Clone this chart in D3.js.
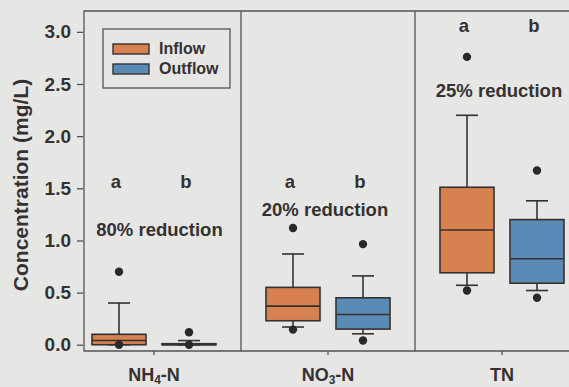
<!DOCTYPE html>
<html>
<head>
<meta charset="utf-8">
<script src="https://cdn.jsdelivr.net/npm/d3@7"></script>
<style>
  body { margin: 0; background: #e6e6e4; }
  svg { display: block; font-family: "Liberation Sans", Arial, sans-serif; font-weight: bold; }
</style>
</head>
<body>
<div id="chart"></div>
<script>
// categories and groups
const categories = ["NH4-N", "NO3-N", "TN"];
const groups = ["Inflow", "Outflow"];

// box stats per category, inflow
const inflowLow = [0.0, 0.17, 0.57];
const inflowQ1 = [0.0, 0.23, 0.69];
const inflowMedian = [0.04, 0.37, 1.10];
const inflowQ3 = [0.10, 0.55, 1.51];
const inflowHigh = [0.40, 0.87, 2.20];
const inflowOutliers = [[0.70, 0.0], [1.12, 0.145], [2.76, 0.52]];

// box stats per category, outflow
const outflowLow = [0.0, 0.105, 0.52];
const outflowQ1 = [0.0, 0.15, 0.59];
const outflowMedian = [0.0, 0.29, 0.825];
const outflowQ3 = [0.01, 0.45, 1.20];
const outflowHigh = [0.04, 0.66, 1.38];
const outflowOutliers = [[0.12, 0.0], [0.965, 0.04], [1.67, 0.45]];

// annotations
const letters = ["a", "b"];
const letterY = [1.5, 1.5, 3.0];
const reductions = ["80% reduction", "20% reduction", "25% reduction"];
const reductionY = [1.04, 1.23, 2.38];
const yTicks = [0, 0.5, 1.0, 1.5, 2.0, 2.5, 3.0];

const colors = { Inflow: "#d6814f", Outflow: "#5a8bb6" };
const ink = "#353131";
const frameColor = "#555252";

const width = 569;
const height = 387;
const plotLeft = 84, plotTop = 11, plotBottom = 351;

const svg = d3.select("#chart")
  .append("svg")
  .attr("width", width)
  .attr("height", height);

const y = d3.scaleLinear()
  .domain([-0.06, 3.2])
  .range([plotBottom, plotTop]);

const x = d3.scaleBand()
  .domain(categories)
  .range([67, 589]);

const xg = d3.scaleBand()
  .domain(groups)
  .range([17, x.bandwidth() - 17]);

const boxW = 54;
const capW = 22;

const rows = [];
categories.forEach((c, i) => {
  rows.push({ cat: c, grp: "Inflow", low: inflowLow[i], q1: inflowQ1[i], med: inflowMedian[i], q3: inflowQ3[i], high: inflowHigh[i], out: inflowOutliers[i] });
  rows.push({ cat: c, grp: "Outflow", low: outflowLow[i], q1: outflowQ1[i], med: outflowMedian[i], q3: outflowQ3[i], high: outflowHigh[i], out: outflowOutliers[i] });
});
const cx = (d) => x(d.cat) + xg(d.grp) + xg.bandwidth() / 2;
// centre of the visible part of a panel
const panelMid = (c) => (Math.max(x(c), plotLeft) + x(c) + x.bandwidth()) / 2;

// frame and dividers
svg.append("path")
  .attr("d", `M${width + 30},${plotTop}H${plotLeft}V${plotBottom}H${width + 30}`)
  .attr("fill", "none")
  .attr("stroke", frameColor)
  .attr("stroke-width", 1.3);

svg.selectAll(".divider")
  .data(categories.slice(1))
  .enter()
  .append("line")
  .attr("class", "divider")
  .attr("x1", (d) => x(d))
  .attr("x2", (d) => x(d))
  .attr("y1", plotTop)
  .attr("y2", plotBottom)
  .attr("stroke", frameColor)
  .attr("stroke-width", 1.3);

// y axis
const yAxis = svg.append("g")
  .attr("transform", `translate(${plotLeft - 1},0)`)
  .call(d3.axisLeft(y).tickValues(yTicks).tickFormat(d3.format(".1f")).tickSize(6).tickPadding(6));
yAxis.select(".domain").remove();
yAxis.selectAll("line").attr("stroke", frameColor).attr("stroke-width", 1.3);
yAxis.selectAll("text")
  .attr("fill", ink)
  .style("font-size", "19px")
  .style("font-family", "'Liberation Sans', Arial, sans-serif")
  .style("font-weight", "bold");

// x ticks
svg.selectAll(".xtick")
  .data(categories)
  .enter()
  .append("line")
  .attr("class", "xtick")
  .attr("x1", (d) => x(d) + x.bandwidth() / 2)
  .attr("x2", (d) => x(d) + x.bandwidth() / 2)
  .attr("y1", plotBottom)
  .attr("y2", plotBottom + 4)
  .attr("stroke", frameColor)
  .attr("stroke-width", 1.3);

// x labels with subscripts
const xLab = svg.selectAll(".xlab")
  .data(categories)
  .enter()
  .append("text")
  .attr("class", "xlab")
  .attr("x", (d) => x(d) + x.bandwidth() / 2)
  .attr("y", 381)
  .attr("text-anchor", "middle")
  .attr("fill", ink)
  .style("font-size", "18px");
xLab.each(function (d) {
  const m = d.match(/^([A-Z]+)(\d?)(.*)$/);
  const t = d3.select(this);
  t.append("tspan").text(m[1]);
  if (m[2]) {
    t.append("tspan").attr("dy", 3).style("font-size", "12px").text(m[2]);
    t.append("tspan").attr("dy", -3).text(m[3]);
  }
});

// y title
svg.append("text")
  .attr("transform", `translate(28,${(plotTop + plotBottom) / 2 + 4}) rotate(-90)`)
  .attr("text-anchor", "middle")
  .attr("fill", ink)
  .style("font-size", "21px")
  .text("Concentration (mg/L)");

// whiskers
const box = svg.selectAll(".box")
  .data(rows)
  .enter()
  .append("g")
  .attr("class", "box");

box.append("line")
  .attr("x1", cx).attr("x2", cx)
  .attr("y1", (d) => y(d.high)).attr("y2", (d) => y(d.q3))
  .attr("stroke", ink).attr("stroke-width", 1.6);
box.append("line")
  .attr("x1", cx).attr("x2", cx)
  .attr("y1", (d) => y(d.low)).attr("y2", (d) => y(d.q1))
  .attr("stroke", ink).attr("stroke-width", 1.6);
box.append("line")
  .attr("x1", (d) => cx(d) - capW / 2).attr("x2", (d) => cx(d) + capW / 2)
  .attr("y1", (d) => y(d.high)).attr("y2", (d) => y(d.high))
  .attr("stroke", ink).attr("stroke-width", 1.6);
box.append("line")
  .attr("x1", (d) => cx(d) - capW / 2).attr("x2", (d) => cx(d) + capW / 2)
  .attr("y1", (d) => y(d.low)).attr("y2", (d) => y(d.low))
  .attr("stroke", ink).attr("stroke-width", 1.6);

box.append("rect")
  .attr("x", (d) => cx(d) - boxW / 2)
  .attr("y", (d) => y(d.q3))
  .attr("width", boxW)
  .attr("height", (d) => Math.max(1, y(d.q1) - y(d.q3)))
  .attr("fill", (d) => colors[d.grp])
  .attr("stroke", ink)
  .attr("stroke-width", 1.6);

box.append("line")
  .attr("x1", (d) => cx(d) - boxW / 2).attr("x2", (d) => cx(d) + boxW / 2)
  .attr("y1", (d) => y(d.med)).attr("y2", (d) => y(d.med))
  .attr("stroke", ink).attr("stroke-width", 1.6);

box.selectAll("circle")
  .data((d) => d.out.map((v) => ({ v: v, x: cx(d) })))
  .enter()
  .append("circle")
  .attr("cx", (d) => d.x)
  .attr("cy", (d) => y(d.v))
  .attr("r", 4.2)
  .attr("fill", "#2a2828");

// significance letters
categories.forEach((c, i) => {
  svg.selectAll(".let" + i)
    .data(groups)
    .enter()
    .append("text")
    .attr("x", (g) => x(c) + xg(g) + xg.bandwidth() / 2 - 3)
    .attr("y", y(letterY[i]))
    .attr("text-anchor", "middle")
    .attr("fill", ink)
    .style("font-size", "18.5px")
    .text((g, j) => letters[j]);
});

// reduction labels
svg.selectAll(".red")
  .data(categories)
  .enter()
  .append("text")
  .attr("class", "red")
  .attr("x", (d) => panelMid(d) - 3)
  .attr("y", (d, i) => y(reductionY[i]))
  .attr("text-anchor", "middle")
  .attr("fill", ink)
  .style("font-size", "18.5px")
  .text((d, i) => reductions[i]);

// legend
const legend = svg.append("g").attr("transform", "translate(103,29)");
legend.append("rect")
  .attr("width", 127).attr("height", 59)
  .attr("fill", "none").attr("stroke", frameColor).attr("stroke-width", 1.3);
const li = legend.selectAll(".li")
  .data(groups)
  .enter()
  .append("g")
  .attr("transform", (d, i) => `translate(10,${15 + i * 20})`);
li.append("rect")
  .attr("width", 36).attr("height", 10)
  .attr("fill", (d) => colors[d])
  .attr("stroke", ink).attr("stroke-width", 1.4);
li.append("text")
  .attr("x", 46).attr("y", 10)
  .attr("fill", ink)
  .style("font-size", "16px")
  .text((d) => d);
</script>
</body>
</html>
